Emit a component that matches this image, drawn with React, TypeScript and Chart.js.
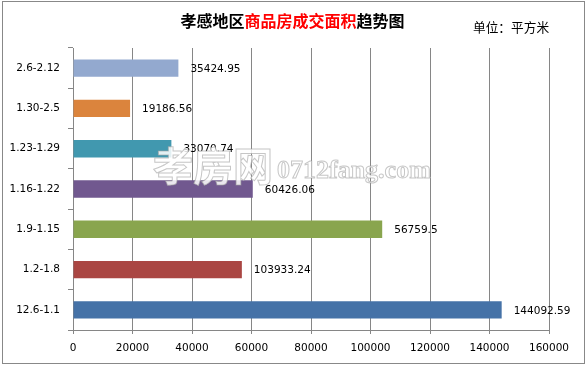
import React, { useEffect, useRef } from 'react';
import { Chart, registerables } from 'chart.js';

Chart.register(...registerables);

const categories = ['12.6-1.1', '1.2-1.8', '1.9-1.15', '1.16-1.22', '1.23-1.29', '1.30-2.5', '2.6-2.12'];
const areaValues = [144092.59, 56759.5, 103933.24, 60426.06, 33070.74, 19186.56, 35424.95];
const valueLabels = ['144092.59', '103933.24', '56759.5', '60426.06', '33070.74', '19186.56', '35424.95'];
const barColors = ['#4572A7', '#AA4643', '#89A54E', '#71588F', '#4198AF', '#DB843D', '#93A9CF'];
const titleParts: [string, string][] = [['孝感地区', '#000000'], ['商品房成交面积', '#FF0000'], ['趋势图', '#000000']];
const unitText = '单位：平方米';
const watermarkCN = '孝房网';
const watermarkEN = '0712fang.com';
const xMin = 0;
const xMax = 160000;
const xStep = 20000;

const decorPlugin = {
  id: 'decor',
  beforeDraw(chart: any) {
    const ctx = chart.ctx;
    ctx.save();
    ctx.fillStyle = '#ffffff';
    ctx.fillRect(0, 0, chart.width, chart.height);
    ctx.strokeStyle = '#888888';
    ctx.lineWidth = 1;
    ctx.strokeRect(2.5, 1.5, chart.width - 4, chart.height - 4);
    ctx.restore();
  },
  afterDatasetsDraw(chart: any) {
    const ctx = chart.ctx;
    const meta = chart.getDatasetMeta(0);
    ctx.save();
    ctx.font = '10.5px "DejaVu Sans"';
    ctx.fillStyle = '#000000';
    ctx.textAlign = 'left';
    ctx.textBaseline = 'middle';
    meta.data.forEach((bar: any, i: number) => {
      ctx.fillText(valueLabels[i], bar.x + 12, bar.y + 1);
    });
    ctx.restore();
  },
  afterDraw(chart: any) {
    const ctx = chart.ctx;
    ctx.save();
    // title
    ctx.font = 'bold 16px "Noto Sans CJK SC"';
    ctx.textBaseline = 'middle';
    ctx.textAlign = 'left';
    let total = 0;
    titleParts.forEach(([t]) => (total += ctx.measureText(t).width));
    let x = 292.5 - total / 2;
    titleParts.forEach(([t, c]) => {
      ctx.fillStyle = c;
      ctx.fillText(t, x, 21);
      x += ctx.measureText(t).width;
    });
    // unit
    ctx.font = '12.7px "Noto Sans CJK SC"';
    ctx.fillStyle = '#000000';
    ctx.fillText(unitText, 473, 27);
    // watermark
    ctx.lineWidth = 1;
    ctx.strokeStyle = 'rgba(160,160,160,0.6)';
    ctx.fillStyle = 'rgba(255,255,255,0.85)';
    ctx.font = 'bold 40px "Noto Sans CJK SC"';
    ctx.fillText(watermarkCN, 153, 166);
    ctx.strokeText(watermarkCN, 153, 166);
    ctx.font = 'bold 26px "Liberation Serif"';
    ctx.textBaseline = 'alphabetic';
    ctx.fillText(watermarkEN, 277, 178);
    ctx.strokeText(watermarkEN, 277, 178);
    ctx.restore();
  },
};

export default function App() {
  const ref = useRef<HTMLCanvasElement | null>(null);
  useEffect(() => {
    if (!ref.current) return;
    const chart = new Chart(ref.current, {
      type: 'bar',
      data: {
        labels: categories,
        datasets: [
          {
            data: areaValues,
            backgroundColor: barColors,
            borderWidth: 0,
            categoryPercentage: 0.43,
            barPercentage: 1,
          },
        ],
      },
      options: {
        indexAxis: 'y',
        responsive: false,
        animation: false,
        layout: { padding: { top: 48, right: 37, left: 0, bottom: 0 } },
        plugins: {
          legend: { display: false },
          tooltip: { enabled: false },
          title: { display: false },
        },
        scales: {
          x: {
            min: xMin,
            max: xMax,
            ticks: {
              stepSize: xStep,
              color: '#000000',
              font: { family: 'DejaVu Sans', size: 10.5 },
              padding: 8,
              maxRotation: 0,
              callback: (v: any) => String(v),
            },
            grid: { color: '#868686', tickLength: 4 },
            border: { color: '#868686' },
            afterFit: (s: any) => {
              s.height = 36;
            },
          },
          y: {
            reverse: true,
            ticks: {
              color: '#000000',
              font: { family: 'DejaVu Sans', size: 10.5 },
              padding: 8,
            },
            grid: { drawOnChartArea: false, color: '#868686', tickLength: 5 },
            border: { color: '#868686' },
            afterFit: (s: any) => {
              s.width = 73;
            },
          },
        },
      },
      plugins: [decorPlugin],
    });
    return () => chart.destroy();
  }, []);
  return (
    <div style={{ position: 'absolute', left: 0, top: 0, width: 586, height: 366 }}>
      <canvas ref={ref} width={586} height={366} />
    </div>
  );
}
